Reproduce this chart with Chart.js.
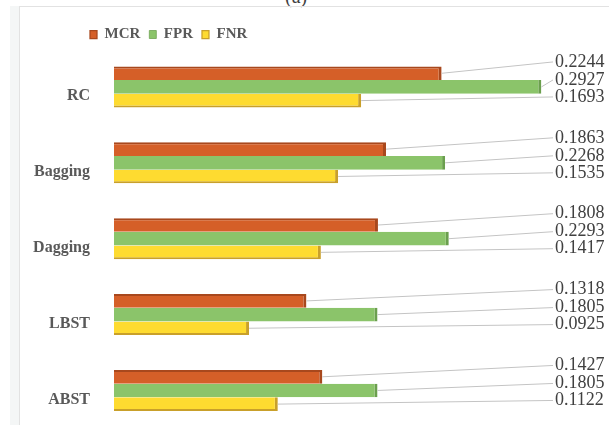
<!DOCTYPE html>
<html>
<head>
<meta charset="utf-8">
<script src="https://cdn.jsdelivr.net/npm/chart.js@4.4.0/dist/chart.umd.min.js"></script>
<style>
  html, body { margin: 0; padding: 0; background: #fff; }
  body { width: 609px; height: 425px; overflow: hidden; position: relative; }
  .cadre-graphique { position: absolute; left: 0; top: 0; width: 609px; height: 454px; }
  .bande { position: absolute; left: 10px; top: 6px; width: 9px; height: 419px; background: #f4f6f6; }
  .trait-v { position: absolute; left: 19px; top: 6px; width: 1px; height: 419px; background: #e2e2e2; }
  .trait-h { position: absolute; left: 19px; top: 6px; width: 590px; height: 1px; background: #e2e2e2; }
  .titre { position: absolute; left: 285px; top: -15px; font: 20px "Liberation Serif", serif; color: #404040; }
</style>
</head>
<body>
<div class="titre">(a)</div>
<div class="bande"></div>
<div class="trait-v"></div>
<div class="trait-h"></div>
<div class="cadre-graphique"><canvas id="graphique"></canvas></div>
<script>
"use strict";
/* global Chart */
const categories = ["RC", "Bagging", "Dagging", "LBST", "ABST"];
const series = ["MCR", "FPR", "FNR"];
const mcr = [0.2244, 0.1863, 0.1808, 0.1318, 0.1427];
const fpr = [0.2927, 0.2268, 0.2293, 0.1805, 0.1805];
const fnr = [0.1693, 0.1535, 0.1417, 0.0925, 0.1122];

const couleurs = ["#d55f28", "#8bc46a", "#fedb30"];
const couleursFace = ["#a8481d", "#6b9f4e", "#c9a02a"];

// Etiquettes de valeur avec traits de rappel
const etiquettesValeurs = {
    id: "etiquettesValeurs",
    afterDatasetsDraw(chart) {
        const ctx = chart.ctx;
        const yScale = chart.scales.y;
        const decalages = [-25, -7, 10];
        ctx.save();
        ctx.font = "18px 'Liberation Serif', serif";
        ctx.textAlign = "left";
        ctx.textBaseline = "middle";
        chart.data.datasets.forEach((ds, i) => {
            const meta = chart.getDatasetMeta(i);
            meta.data.forEach((bar, j) => {
                const yLabel = yScale.getPixelForValue(j) + decalages[i];
                ctx.strokeStyle = "#c4c4c4";
                ctx.lineWidth = 1;
                ctx.beginPath();
                ctx.moveTo(bar.x, bar.y);
                ctx.lineTo(553, yLabel);
                ctx.stroke();
                ctx.fillStyle = "#404040";
                ctx.fillText(ds.data[j].toFixed(4), 555, yLabel);
            });
        });
        ctx.restore();
    }
};

// Decaler la legende vers la droite et un peu vers le bas
const decalageLegende = {
    id: "decalageLegende",
    afterLayout(chart) {
        chart.legend.left = 81;
        chart.legend.top += 3;
        chart.legend.bottom += 3;
    }
};

const config = {
    type: "bar",
    data: {
        labels: categories,
        datasets: [
            {
                label: series[0],
                data: mcr,
                backgroundColor: couleurs[0],
                borderColor: couleursFace[0],
                borderWidth: { top: 2, right: 3, bottom: 0, left: 0 },
                borderSkipped: false
            },
            {
                label: series[1],
                data: fpr,
                backgroundColor: couleurs[1],
                borderColor: couleursFace[1],
                borderWidth: { top: 0, right: 3, bottom: 0, left: 0 },
                borderSkipped: false
            },
            {
                label: series[2],
                data: fnr,
                backgroundColor: couleurs[2],
                borderColor: couleursFace[2],
                borderWidth: { top: 0, right: 3, bottom: 2, left: 0 },
                borderSkipped: false
            }
        ]
    },
    options: {
        indexAxis: "y",
        responsive: true,
        maintainAspectRatio: false,
        animation: false,
        layout: { padding: { top: 15, right: 57, bottom: 12, left: 0 } },
        datasets: {
            bar: { barPercentage: 1, categoryPercentage: 0.54 }
        },
        scales: {
            x: { display: false, min: 0, max: 0.3 },
            y: {
                grid: { display: false },
                border: { display: false },
                ticks: {
                    color: "#595959",
                    padding: 16,
                    labelOffset: 9,
                    font: { family: "'Liberation Serif', serif", size: 16, weight: "bold" }
                },
                afterFit(scale) { scale.width = 114; }
            }
        },
        plugins: {
            legend: {
                position: "top",
                align: "start",
                labels: {
                    boxWidth: 7,
                    boxHeight: 8,
                    padding: 9,
                    color: "#595959",
                    font: { family: "'Liberation Serif', serif", size: 15, weight: "bold" }
                }
            },
            tooltip: { enabled: false }
        }
    },
    plugins: [etiquettesValeurs, decalageLegende]
};

new Chart(document.querySelector("#graphique"), config);
</script>
</body>
</html>
